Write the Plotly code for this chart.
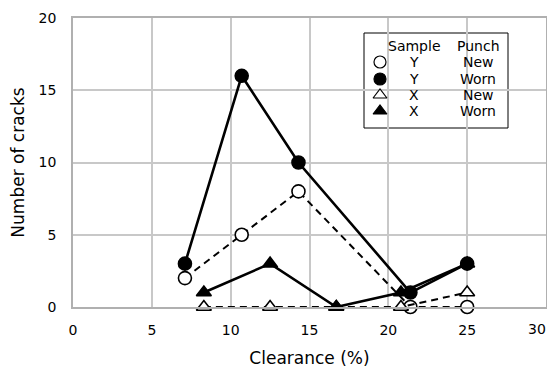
import plotly.graph_objects as go

clear_y = [7.1, 10.7, 14.3, 21.4, 25.0]
clear_x = [8.3, 12.5, 16.7, 20.8, 25.0]
y_new = [2, 5, 8, 0, 0]
y_worn = [3, 16, 10, 1, 3]
x_new = [0, 0, 0, 0, 1]
x_worn = [1, 3, 0, 1, 3]
x_ticks = [0, 5, 10, 15, 20, 25, 30]

FONT = "DejaVu Sans"
fig = go.Figure()

def add(xs, ys, dash, symbol, width, fill):
    fig.add_trace(go.Scatter(
        x=xs, y=ys, mode="lines+markers",
        line=dict(color="black", width=width, dash=dash),
        marker=dict(symbol=symbol, size=13, color=fill, line=dict(color="black", width=1.6)),
        showlegend=False, cliponaxis=False))

add(clear_y, y_new, "7px,5px", "circle", 2, "white")
add(clear_x, x_new, "7px,5px", "triangle-up", 2, "white")
add(clear_x, x_worn, "solid", "triangle-up", 2.6, "black")
add(clear_y, y_worn, "solid", "circle", 2.6, "black")

# page has an 8px body margin; figure offset by 8px inside the 555x376 window
W, H = 547, 360
L, R, T, B = 65, 9, 10, 61

fig.update_layout(
    width=W, height=H,
    margin=dict(l=L, r=R, t=T, b=B, autoexpand=False),
    paper_bgcolor="white", plot_bgcolor="white",
    font=dict(family=FONT, size=14, color="black"),
    xaxis=dict(range=[0, 30], tickvals=x_ticks,
               ticktext=[str(v) if v != x_ticks[-1] else "" for v in x_ticks],
               showgrid=True, gridcolor="#c8c8c8", gridwidth=1.5,
               zeroline=False, showline=True, linecolor="#b0b0b0", linewidth=1.5, mirror=True,
               ticks="outside", ticklen=9, tickcolor="rgba(0,0,0,0)", automargin=False,
               title=dict(text="Clearance (%)", standoff=24)),
    yaxis=dict(range=[0, 20], dtick=5, showgrid=True, gridcolor="#c8c8c8", gridwidth=1.5,
               zeroline=False, showline=True, linecolor="#b0b0b0", linewidth=1.5, mirror=True,
               ticks="outside", ticklen=12, tickcolor="rgba(0,0,0,0)", automargin=False,
               title=dict(text="Number of cracks", standoff=14)),
)

# last x tick label kept inside the visible window
fig.add_annotation(xref="paper", yref="paper", x=(548 - 73) / 473, y=0, yshift=-22,
                   text=str(x_ticks[-1]), showarrow=False, xanchor="right", yanchor="middle",
                   font=dict(size=14))

# custom legend box (coordinates in reference-screen pixels, plot area 73..546 x 18..307)
def px(x):
    return (x - 73) / 473
def py(y):
    return (307 - y) / 289

fig.add_shape(type="rect", xref="paper", yref="paper",
              x0=px(364), x1=px(508), y0=py(128), y1=py(33),
              line=dict(color="black", width=1), fillcolor="white", layer="between")
rows = [("Sample", "Punch", None), ("Y", "New", ("circle", "white")), ("Y", "Worn", ("circle", "black")),
        ("X", "New", ("triangle-up", "white")), ("X", "Worn", ("triangle-up", "black"))]
ys_px = [46, 62, 79, 95, 111]
for (s, p, m), yy in zip(rows, ys_px):
    fig.add_annotation(xref="paper", yref="paper", x=px(414), y=py(yy), text=s, showarrow=False,
                       xanchor="center", yanchor="middle", font=dict(size=14))
    fig.add_annotation(xref="paper", yref="paper", x=px(478), y=py(yy), text=p, showarrow=False,
                       xanchor="center", yanchor="middle", font=dict(size=14))
    if m:
        fig.add_trace(go.Scatter(x=[px(380) * 30], y=[py(yy) * 20], mode="markers",
                                 marker=dict(symbol=m[0], size=12, color=m[1], line=dict(color="black", width=1.2)),
                                 showlegend=False, cliponaxis=False))

fig.write_html("out.html")
